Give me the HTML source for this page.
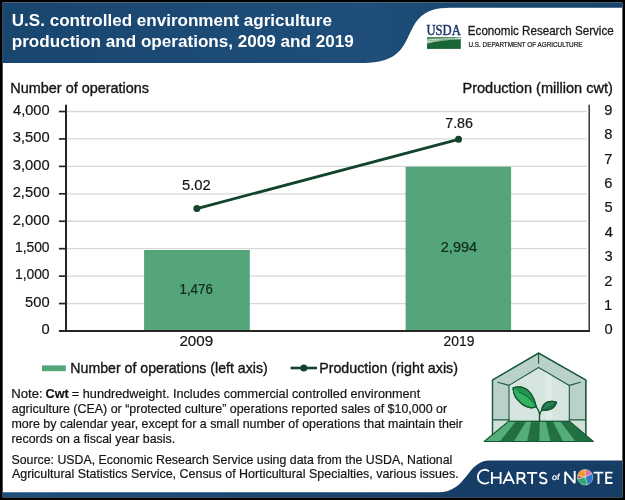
<!DOCTYPE html>
<html><head><meta charset="utf-8">
<style>
html,body{margin:0;padding:0;background:#000;}
body{width:625px;height:500px;overflow:hidden;font-family:"Liberation Sans",sans-serif;}
svg{display:block;will-change:transform;}
</style></head><body>
<svg width="625" height="500" viewBox="0 0 625 500">
<defs><linearGradient id="bg" gradientUnits="userSpaceOnUse" x1="0" x2="625" y1="0" y2="0"><stop offset="0" stop-color="#1d4e7b"/><stop offset="0.5" stop-color="#1a4570"/><stop offset="0.75" stop-color="#163d66"/><stop offset="1" stop-color="#163d66"/></linearGradient><linearGradient id="hg" gradientUnits="userSpaceOnUse" x1="0" x2="625" y1="0" y2="0"><stop offset="0" stop-color="#19466f"/><stop offset="0.6" stop-color="#1e4e79"/><stop offset="0.75" stop-color="#19476e"/><stop offset="1" stop-color="#17446b"/></linearGradient></defs>
<rect x="0" y="0" width="625" height="500" fill="#000"/>
<rect x="2.7" y="2.5" width="619.7" height="494.8" fill="#fff"/>
<path d="M2.7,2.5 H622.4 V7.7 H450.4 C392,7.7 427.5,62.9 363.8,62.9 H2.7 Z" fill="url(#hg)"/>
<path d="M622.4,497.3 V460.5 H490 C466,460.5 468,492.3 438,492.3 H2.7 V497.3 Z" fill="url(#bg)"/>

<g stroke="#d8d8d8" stroke-width="1.35">
<line x1="66.0" x2="586.8000000000001" y1="303.5625" y2="303.5625"/>
<line x1="66.0" x2="586.8000000000001" y1="276.125" y2="276.125"/>
<line x1="66.0" x2="586.8000000000001" y1="248.6875" y2="248.6875"/>
<line x1="66.0" x2="586.8000000000001" y1="221.25" y2="221.25"/>
<line x1="66.0" x2="586.8000000000001" y1="193.8125" y2="193.8125"/>
<line x1="66.0" x2="586.8000000000001" y1="166.375" y2="166.375"/>
<line x1="66.0" x2="586.8000000000001" y1="138.9375" y2="138.9375"/>
<line x1="66.0" x2="586.8000000000001" y1="111.5" y2="111.5"/>
</g>
<rect x="144.1" y="250.00" width="105.7" height="81.00" fill="#54a57a"/>
<rect x="405.6" y="166.70" width="105.5" height="164.30" fill="#54a57a"/>
<g stroke="#262626" fill="none">
<line x1="66.0" x2="66.0" y1="104.8" y2="331.9" stroke-width="2"/>
<line x1="589.2" x2="589.2" y1="104.8" y2="331.9" stroke-width="1.4"/>
<line x1="58.9" x2="589.9000000000001" y1="331.0" y2="331.0" stroke-width="1.9"/>
<line x1="58.9" x2="66.0" y1="303.5625" y2="303.5625" stroke-width="1.7"/>
<line x1="58.9" x2="66.0" y1="276.125" y2="276.125" stroke-width="1.7"/>
<line x1="58.9" x2="66.0" y1="248.6875" y2="248.6875" stroke-width="1.7"/>
<line x1="58.9" x2="66.0" y1="221.25" y2="221.25" stroke-width="1.7"/>
<line x1="58.9" x2="66.0" y1="193.8125" y2="193.8125" stroke-width="1.7"/>
<line x1="58.9" x2="66.0" y1="166.375" y2="166.375" stroke-width="1.7"/>
<line x1="58.9" x2="66.0" y1="138.9375" y2="138.9375" stroke-width="1.7"/>
<line x1="58.9" x2="66.0" y1="111.5" y2="111.5" stroke-width="1.7"/>
</g>
<line x1="196.9" y1="208.57" x2="458.5" y2="139.30" stroke="#12442c" stroke-width="2.8"/>
<circle cx="196.9" cy="208.57" r="3.5" fill="#12442c"/><circle cx="458.5" cy="139.30" r="3.5" fill="#12442c"/>
<rect x="42" y="365.4" width="23.8" height="5.8" fill="#54a57a"/>
<line x1="290.6" x2="317" y1="368" y2="368" stroke="#12442c" stroke-width="2.6"/><circle cx="303.8" cy="368" r="3.5" fill="#12442c"/>
<text transform="translate(11.78,26.40) scale(1.0033,1)" font-family="Liberation Sans, sans-serif" font-size="17" font-weight="bold" fill="#fff" >U.S. controlled environment agriculture</text>
<text transform="translate(11.69,47.30) scale(1.0063,1)" font-family="Liberation Sans, sans-serif" font-size="17" font-weight="bold" fill="#fff" >production and operations, 2009 and 2019</text>
<text transform="translate(10.35,93.00) scale(1.0015,1)" font-family="Liberation Sans, sans-serif" font-size="14.4" fill="#151515"  stroke="#151515" stroke-width="0.35">Number of operations</text>
<text transform="translate(462.43,92.80) scale(1.0122,1)" font-family="Liberation Sans, sans-serif" font-size="14.4" fill="#151515"  stroke="#151515" stroke-width="0.35">Production (million cwt)</text>
<text transform="translate(41.43,334.30) scale(1.0500,1)" font-family="Liberation Sans, sans-serif" font-size="14.0" fill="#151515"  stroke="#151515" stroke-width="0.2">0</text>
<text transform="translate(25.11,306.86) scale(1.0500,1)" font-family="Liberation Sans, sans-serif" font-size="14.0" fill="#151515"  stroke="#151515" stroke-width="0.2">500</text>
<text transform="translate(14.96,279.43) scale(0.9883,1)" font-family="Liberation Sans, sans-serif" font-size="14.0" fill="#151515"  stroke="#151515" stroke-width="0.2">1,000</text>
<text transform="translate(14.96,251.99) scale(0.9883,1)" font-family="Liberation Sans, sans-serif" font-size="14.0" fill="#151515"  stroke="#151515" stroke-width="0.2">1,500</text>
<text transform="translate(12.66,224.55) scale(1.0551,1)" font-family="Liberation Sans, sans-serif" font-size="14.0" fill="#151515"  stroke="#151515" stroke-width="0.2">2,000</text>
<text transform="translate(12.66,197.11) scale(1.0551,1)" font-family="Liberation Sans, sans-serif" font-size="14.0" fill="#151515"  stroke="#151515" stroke-width="0.2">2,500</text>
<text transform="translate(12.81,169.68) scale(1.0508,1)" font-family="Liberation Sans, sans-serif" font-size="14.0" fill="#151515"  stroke="#151515" stroke-width="0.2">3,000</text>
<text transform="translate(12.81,142.24) scale(1.0508,1)" font-family="Liberation Sans, sans-serif" font-size="14.0" fill="#151515"  stroke="#151515" stroke-width="0.2">3,500</text>
<text transform="translate(13.03,114.80) scale(1.0443,1)" font-family="Liberation Sans, sans-serif" font-size="14.0" fill="#151515"  stroke="#151515" stroke-width="0.2">4,000</text>
<text transform="translate(604.41,334.30) scale(1.0500,1)" font-family="Liberation Sans, sans-serif" font-size="14.0" fill="#151515"  stroke="#151515" stroke-width="0.2">0</text>
<text transform="translate(603.90,309.91) scale(1.0500,1)" font-family="Liberation Sans, sans-serif" font-size="14.0" fill="#151515"  stroke="#151515" stroke-width="0.2">1</text>
<text transform="translate(604.26,285.52) scale(1.0500,1)" font-family="Liberation Sans, sans-serif" font-size="14.0" fill="#151515"  stroke="#151515" stroke-width="0.2">2</text>
<text transform="translate(604.41,261.13) scale(1.0500,1)" font-family="Liberation Sans, sans-serif" font-size="14.0" fill="#151515"  stroke="#151515" stroke-width="0.2">3</text>
<text transform="translate(604.63,236.74) scale(1.0500,1)" font-family="Liberation Sans, sans-serif" font-size="14.0" fill="#151515"  stroke="#151515" stroke-width="0.2">4</text>
<text transform="translate(604.41,212.36) scale(1.0500,1)" font-family="Liberation Sans, sans-serif" font-size="14.0" fill="#151515"  stroke="#151515" stroke-width="0.2">5</text>
<text transform="translate(604.26,187.97) scale(1.0500,1)" font-family="Liberation Sans, sans-serif" font-size="14.0" fill="#151515"  stroke="#151515" stroke-width="0.2">6</text>
<text transform="translate(604.26,163.58) scale(1.0500,1)" font-family="Liberation Sans, sans-serif" font-size="14.0" fill="#151515"  stroke="#151515" stroke-width="0.2">7</text>
<text transform="translate(604.34,139.19) scale(1.0500,1)" font-family="Liberation Sans, sans-serif" font-size="14.0" fill="#151515"  stroke="#151515" stroke-width="0.2">8</text>
<text transform="translate(604.34,114.80) scale(1.0500,1)" font-family="Liberation Sans, sans-serif" font-size="14.0" fill="#151515"  stroke="#151515" stroke-width="0.2">9</text>
<text transform="translate(179.44,346.20) scale(1.0832,1)" font-family="Liberation Sans, sans-serif" font-size="14.0" fill="#151515"  stroke="#151515" stroke-width="0.2">2009</text>
<text transform="translate(443.61,346.20) scale(0.9893,1)" font-family="Liberation Sans, sans-serif" font-size="14.0" fill="#151515"  stroke="#151515" stroke-width="0.2">2019</text>
<text transform="translate(182.01,190.30) scale(1.0551,1)" font-family="Liberation Sans, sans-serif" font-size="14.0" fill="#151515"  stroke="#151515" stroke-width="0.2">5.02</text>
<text transform="translate(445.18,128.40) scale(1.0232,1)" font-family="Liberation Sans, sans-serif" font-size="14.0" fill="#151515"  stroke="#151515" stroke-width="0.2">7.86</text>
<text transform="translate(179.50,294.10) scale(0.9514,1)" font-family="Liberation Sans, sans-serif" font-size="14.0" fill="#102a1b"  stroke="#102a1b" stroke-width="0.2">1,476</text>
<text transform="translate(440.77,252.40) scale(1.0390,1)" font-family="Liberation Sans, sans-serif" font-size="14.0" fill="#102a1b"  stroke="#102a1b" stroke-width="0.2">2,994</text>
<text transform="translate(70.37,373.00) scale(0.9831,1)" font-family="Liberation Sans, sans-serif" font-size="14.4" fill="#151515"  stroke="#151515" stroke-width="0.35">Number of operations (left axis)</text>
<text transform="translate(319.16,373.00) scale(0.9919,1)" font-family="Liberation Sans, sans-serif" font-size="14.4" fill="#151515"  stroke="#151515" stroke-width="0.35">Production (right axis)</text>
<text transform="translate(11.25,398.30) scale(1.0631,1)" font-family="Liberation Sans, sans-serif" font-size="12.4" fill="#151515"  stroke="#151515" stroke-width="0.2">Note:</text>
<text transform="translate(45.59,398.30) scale(1.0194,1)" font-family="Liberation Sans, sans-serif" font-size="12.4" font-weight="bold" fill="#151515"  stroke="#151515" stroke-width="0.2">Cwt</text>
<text transform="translate(71.87,398.30) scale(1.0228,1)" font-family="Liberation Sans, sans-serif" font-size="12.4" fill="#151515"  stroke="#151515" stroke-width="0.2">= hundredweight. Includes commercial controlled environment</text>
<text transform="translate(11.74,413.20) scale(1.0049,1)" font-family="Liberation Sans, sans-serif" font-size="12.4" fill="#151515"  stroke="#151515" stroke-width="0.2">agriculture (CEA) or “protected culture” operations reported sales of $10,000 or</text>
<text transform="translate(11.49,428.00) scale(1.0049,1)" font-family="Liberation Sans, sans-serif" font-size="12.4" fill="#151515"  stroke="#151515" stroke-width="0.2">more by calendar year, except for a small number of operations that maintain their</text>
<text transform="translate(11.49,442.80) scale(0.9990,1)" font-family="Liberation Sans, sans-serif" font-size="12.4" fill="#151515"  stroke="#151515" stroke-width="0.2">records on a fiscal year basis.</text>
<text transform="translate(11.44,463.60) scale(0.9960,1)" font-family="Liberation Sans, sans-serif" font-size="12.4" fill="#151515"  stroke="#151515" stroke-width="0.2">Source: USDA, Economic Research Service using data from the USDA, National</text>
<text transform="translate(11.94,478.20) scale(1.0063,1)" font-family="Liberation Sans, sans-serif" font-size="12.4" fill="#151515"  stroke="#151515" stroke-width="0.2">Agricultural Statistics Service, Census of Horticultural Specialties, various issues.</text>
<text transform="translate(426.45,35.40) scale(0.8848,1)" font-family="Liberation Serif, serif" font-size="14.3" fill="#1b386b" stroke="#1b386b" stroke-width="0.45">USDA</text>
<rect x="427" y="37" width="33.8" height="11.9" fill="#1a6538"/>
<path d="M427,37 H460.8 V38 C449,38.4 438,38.6 427,39.6 Z" fill="#4f8f62"/>
<path d="M427,39.4 C438,38.2 449,38.6 460.8,37.5 V39.2 C448,40 437,40.6 427,43.6 Z" fill="#dbe8dc"/>
<path d="M427,41 C437,39.6 446,39.6 455,38.7" fill="none" stroke="#3f8455" stroke-width="0.5"/>
<path d="M427,42.4 C437,40.6 446,40.2 458,39" fill="none" stroke="#3f8455" stroke-width="0.4"/>
<text transform="translate(467.87,35.20) scale(0.8803,1)" font-family="Liberation Sans, sans-serif" font-size="13.2" fill="#1a1a1a" stroke="#1a1a1a" stroke-width="0.3">Economic Research Service</text>
<text transform="translate(468.52,46.60) scale(0.8028,1)" font-family="Liberation Sans, sans-serif" font-size="7.9" fill="#1a1a1a" stroke="#1a1a1a" stroke-width="0.25">U.S. DEPARTMENT OF AGRICULTURE</text>
<g stroke="#1d5a3b" stroke-width="1.1" stroke-linejoin="round" stroke-linecap="round">
<path d="M492.5,435 V380 L538.6,353.1 L585.8,380 V435 Z" fill="#b9d1c8"/>
<path d="M492.5,420 H509 V435 H492.5 Z M569.3,420 H585.8 V435 H569.3 Z" fill="#cfe0d9" stroke="none"/>
<path d="M509,421.5 V385.4 L538.6,367.5 L569.3,385.4 V421.5 Z" fill="#d6e5e0"/>
<path d="M538.6,353.1 V363.2 M497.9,382.3 L509,385.4 M580.4,382.3 L569.3,385.4 M492.5,419.9 H509 M569.3,419.9 H585.8" fill="none"/>
<path d="M492.5,435 V380 L538.6,353.1 L585.8,380 V435" fill="none" stroke-width="1.4"/>
</g>
<path d="M545,372 L552,376 V421 H545 Z" fill="#e1ece8" opacity="0.7"/>
<path d="M508.8,421.2 L516.5,421.2 L500.2,441.5 L484.2,441.5 Z" fill="#55ad7a" stroke="#1a5e39" stroke-width="0.5"/>
<path d="M516.5,421.2 L526.1,421.2 L513.6,441.5 L500.2,441.5 Z" fill="#217042" stroke="#1a5e39" stroke-width="0.5"/>
<path d="M526.1,421.2 L531.8,421.2 L527.6,441.5 L513.6,441.5 Z" fill="#55ad7a" stroke="#1a5e39" stroke-width="0.5"/>
<path d="M531.8,421.2 L539.5,421.2 L539.1,441.5 L527.6,441.5 Z" fill="#217042" stroke="#1a5e39" stroke-width="0.5"/>
<path d="M539.5,421.2 L546.2,421.2 L551.0,441.5 L539.1,441.5 Z" fill="#55ad7a" stroke="#1a5e39" stroke-width="0.5"/>
<path d="M546.2,421.2 L552.6,421.2 L562.9,441.5 L551.0,441.5 Z" fill="#217042" stroke="#1a5e39" stroke-width="0.5"/>
<path d="M552.6,421.2 L560.6,421.2 L576.0,441.5 L562.9,441.5 Z" fill="#55ad7a" stroke="#1a5e39" stroke-width="0.5"/>
<path d="M560.6,421.2 L569.3,421.2 L593.3,441.5 L576.0,441.5 Z" fill="#217042" stroke="#1a5e39" stroke-width="0.5"/>
<path d="M508.8,421.2 H569.3 L593.3,441.5 H484.2 Z" fill="none" stroke="#17573a" stroke-width="1.1" stroke-linejoin="round"/>
<path d="M539.5,421.5 V414 C539.5,411 538,409.5 536.2,406.8" fill="none" stroke="#14532f" stroke-width="1.4"/>
<path d="M539.6,415 C540,412.5 540.8,411.2 542.2,410" fill="none" stroke="#14532f" stroke-width="1.3"/>
<path d="M513,388 C517,386.6 521,386.8 523.5,387.7 C527,389 529.5,391.5 531.2,394.1 C534,398.5 535.5,402.5 536.3,406.5 C534.5,407.6 533,408 531.2,407.9 C528,407.8 525,406.5 522.2,404.3 C519,401.5 516.5,399 515.2,396.6 C513.8,394 513.2,391 513,388 Z" fill="#31b162" stroke="#14532f" stroke-width="1.1" stroke-linejoin="round"/>
<path d="M513,388 C517,386.6 521,386.8 523.5,387.7 C527,389 529.5,391.5 531.2,394.1 C534,398.5 535.5,402.5 536.3,406.5 C533,401 526,394.5 519,392.2 Z" fill="#23934f"/>
<path d="M519,392.2 C526,394.5 533,401 536.3,406.5" fill="none" stroke="#14532f" stroke-width="0.9"/>
<path d="M513,388 C517,386.6 521,386.8 523.5,387.7 C527,389 529.5,391.5 531.2,394.1 C534,398.5 535.5,402.5 536.3,406.5 C534.5,407.6 533,408 531.2,407.9 C528,407.8 525,406.5 522.2,404.3 C519,401.5 516.5,399 515.2,396.6 C513.8,394 513.2,391 513,388 Z" fill="none" stroke="#14532f" stroke-width="1.1" stroke-linejoin="round"/>
<path d="M541.6,410 C542.5,405.5 545,402.8 547.9,401.9 C551,401 554,401.3 556.6,402.3 C555.5,405.5 553.5,408 550.5,409.3 C547.5,410.5 544.5,410.6 541.6,410 Z" fill="#2a8152" stroke="#14532f" stroke-width="1.1" stroke-linejoin="round"/>
<path d="M541.6,410 C546,408.5 551,405.5 556.6,402.3 C555.5,405.5 553.5,408 550.5,409.3 C547.5,410.5 544.5,410.6 541.6,410 Z" fill="#1f6c44"/>
<path d="M541.6,410 C542.5,405.5 545,402.8 547.9,401.9 C551,401 554,401.3 556.6,402.3 C555.5,405.5 553.5,408 550.5,409.3 C547.5,410.5 544.5,410.6 541.6,410 Z" fill="none" stroke="#14532f" stroke-width="1.1" stroke-linejoin="round"/>
<g fill="none" stroke="#fff" stroke-width="1.85" stroke-linecap="butt" stroke-linejoin="miter">
<path d="M489.00,471.26 A6.9,6.9 0 1 0 489.00,482.14"/>
<path d="M491.9,472 V483.9 M500.6,472 V483.9 M491.9,477.6 H500.6"/>
<path d="M503.3,483.9 L508.7,472.6 L514.1,483.9 M505.2,480.1 H512.2" stroke-linejoin="miter"/>
<path d="M517.5,483.9 V472.8 H521.6 A2.9,2.9 0 0 1 521.6,478.7 H517.5 M521.2,478.7 L525.8,483.9"/>
<path d="M527,472.8 H537.2 M532.1,472.8 V483.9"/>
<path d="M546.3,474.2 C545.2,473 544.2,472.7 543.2,472.7 C541.2,472.7 540,474 540,475.4 C540,479 546.6,477.4 546.6,480.9 C546.6,482.4 545.2,483.4 543.3,483.4 C541.8,483.4 540.6,482.9 539.6,481.8" stroke-width="1.75"/>
</g>
<g fill="none" stroke="#fff" stroke-width="1.9">
<path d="M565.2,483.9 V471.9 L574.7,483.1 V471" stroke-linejoin="bevel"/>
<path d="M593.6,472.6 H603.3 M598.5,472.6 V483.9"/>
<path d="M612.6,472.6 H606.2 V483 H612.6 M606.2,477.6 H611.8"/>
</g>
<text transform="translate(551.7,480.2) skewX(-5) scale(1.08,1)" font-family="Liberation Sans, sans-serif" font-size="8.6" fill="#fff" stroke="#fff" stroke-width="0.2">of</text>
<g stroke="#e9eef2" stroke-width="0.5" stroke-linejoin="round">
<path d="M585.2,477.3 L585.20,469.60 A7.7,7.7 0 0 1 592.00,473.69 Z" fill="#e66aa6"/>
<path d="M585.2,477.3 L592.00,473.69 A7.7,7.7 0 0 1 587.19,484.74 Z" fill="#2f77c8"/>
<path d="M585.2,477.3 L587.19,484.74 A7.7,7.7 0 0 1 577.57,478.37 Z" fill="#2eaa6a"/>
<path d="M585.2,477.3 L577.57,478.37 A7.7,7.7 0 0 1 577.76,475.31 Z" fill="#d9472b"/>
<path d="M585.2,477.3 L577.76,475.31 A7.7,7.7 0 0 1 585.20,469.60 Z" fill="#f59a23"/>
</g>
</svg></body></html>
